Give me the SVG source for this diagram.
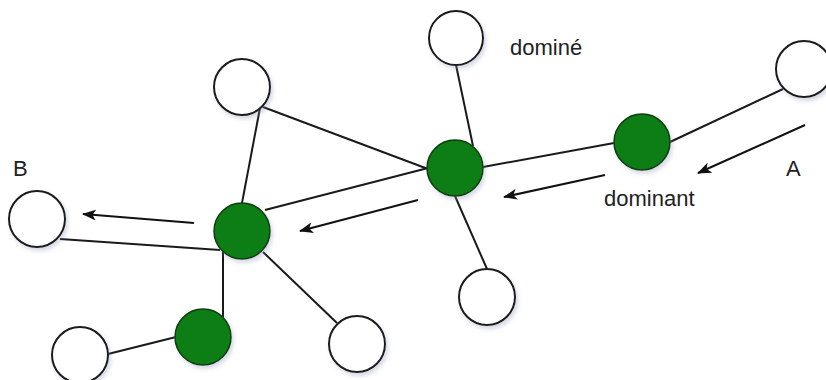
<svg xmlns="http://www.w3.org/2000/svg" width="826" height="380" viewBox="0 0 826 380">
  <defs>
    <marker id="ah" viewBox="0 0 14 11" refX="13" refY="5.5" markerWidth="14" markerHeight="11" markerUnits="userSpaceOnUse" orient="auto">
      <path d="M0,0 L14,5.5 L0,11 L3.5,5.5 Z" fill="#111"/>
    </marker>
    <filter id="sh" x="-30%" y="-30%" width="160%" height="160%">
      <feDropShadow dx="2" dy="3" stdDeviation="2" flood-color="#8890b0" flood-opacity="0.35"/>
    </filter>
  </defs>
  <style>
    .edge { stroke: #1a1a1a; stroke-width: 2; fill: none; }
    .arrow { stroke: #111; stroke-width: 2; fill: none; marker-end: url(#ah); }
    .w { fill: #ffffff; stroke: #1a1a1a; stroke-width: 2; filter: url(#sh); }
    .g { fill: #0f7d12; stroke: #0a3d0a; stroke-width: 1.5; filter: url(#sh); }
    .lbl { font-family: "Liberation Sans", Arial, sans-serif; font-size: 22px; fill: #222; }
  </style>
  <rect width="826" height="380" fill="#ffffff"/>

  <g id="connectors">
    <line class="edge" x1="263" y1="107" x2="428" y2="169"/>
    <line class="edge" x1="260" y1="108" x2="242" y2="203"/>
    <line class="edge" x1="265" y1="210" x2="428" y2="168"/>
    <line class="edge" x1="483" y1="167" x2="614" y2="143"/>
    <line class="edge" x1="670" y1="142" x2="783" y2="89"/>
    <line class="edge" x1="456" y1="65" x2="473" y2="146"/>
    <line class="edge" x1="455" y1="196" x2="487" y2="269"/>
    <line class="edge" x1="60" y1="239" x2="220" y2="250"/>
    <line class="edge" x1="223" y1="250" x2="223" y2="317"/>
    <line class="edge" x1="176" y1="337" x2="108" y2="354"/>
    <line class="edge" x1="263" y1="252" x2="337" y2="323"/>
    <line class="arrow" x1="805" y1="125" x2="698" y2="173"/>
    <line class="arrow" x1="605" y1="175" x2="504" y2="197"/>
    <line class="arrow" x1="418" y1="200" x2="300" y2="231"/>
    <line class="arrow" x1="194" y1="223" x2="83" y2="214"/>
  </g>

  <g id="n-w1"><circle class="w" cx="242" cy="87" r="28"/></g>
  <g id="n-w2"><circle class="w" cx="456" cy="38" r="27"/></g>
  <g id="n-w3"><circle class="w" cx="804" cy="69" r="28"/></g>
  <g id="n-w4"><circle class="w" cx="37" cy="219" r="28"/></g>
  <g id="n-w5"><circle class="w" cx="80" cy="355" r="28"/></g>
  <g id="n-w6"><circle class="w" cx="357" cy="344" r="28"/></g>
  <g id="n-w7"><circle class="w" cx="487" cy="297" r="28"/></g>
  <g id="n-g1"><circle class="g" cx="642" cy="142" r="28"/></g>
  <g id="n-g2"><circle class="g" cx="455" cy="168" r="28"/></g>
  <g id="n-g3"><circle class="g" cx="242" cy="231" r="28"/></g>
  <g id="n-g4"><circle class="g" cx="203" cy="337" r="28"/></g>

  <g id="labels">
    <text class="lbl" x="510" y="55">dominé</text>
    <text class="lbl" x="604" y="206">dominant</text>
    <text class="lbl" x="13" y="176">B</text>
    <text class="lbl" x="786" y="176">A</text>
  </g>
</svg>
